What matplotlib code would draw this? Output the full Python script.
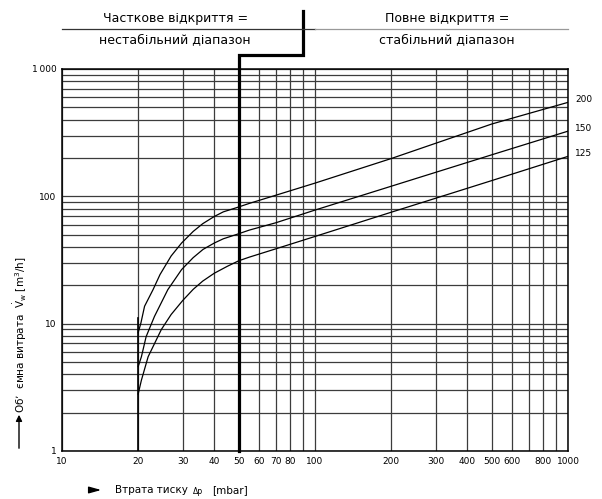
import matplotlib
matplotlib.use("Agg")
import matplotlib.pyplot as plt
import matplotlib.ticker as mticker
import matplotlib.transforms as mtransforms

plt.rcParams['font.family'] = ['DejaVu Sans']

# curve data (pressure drop in mbar -> flow in m3/h)
curve_200_x = [20, 20.5, 21.2, 22.9, 24.4, 27, 29.7, 33, 36, 40, 43.4, 49, 55, 70, 100, 200, 500, 1000]
curve_200_y = [8.5, 10.1, 13.7, 18.5, 24.3, 34, 43, 53, 61, 69.5, 75.5, 81.5, 88, 102, 127, 198, 370, 547]

curve_150_x = [20, 20.6, 21.5, 23.2, 26.2, 29.7, 33, 36.1, 40, 43.4, 49, 55, 70, 100, 200, 500, 1000]
curve_150_y = [4.6, 5.5, 7.9, 11.4, 18.5, 26.6, 33, 38.3, 43, 46.4, 50.2, 54.3, 62, 78, 120, 212, 325]

curve_125_x = [20, 20.6, 21.9, 24.7, 27, 30, 33, 36, 40, 45, 50, 55, 70, 100, 200, 500, 1000]
curve_125_y = [2.8, 3.6, 5.5, 9, 11.8, 15.2, 18.6, 21.6, 24.9, 28.2, 31.2, 33.3, 38.7, 48.4, 75, 133, 206]

x_grid = [10, 20, 30, 40, 50, 60, 70, 80, 90, 100, 200, 300, 400, 500, 600, 700, 800, 900, 1000]
x_labels = ['10', '20', '30', '40', '50', '60', '70', '80', '', '100', '200', '300', '400',
            '500', '600', '', '800', '', '1000']
y_grid = [1, 2, 3, 4, 5, 6, 7, 8, 9, 10, 20, 30, 40, 50, 60, 70, 80, 90,
          100, 200, 300, 400, 500, 600, 700, 800, 900, 1000]
y_labels = ['1', '', '', '', '', '', '', '', '', '10', '', '', '', '', '', '', '', '',
            '100', '', '', '', '', '', '', '', '', '1\u2009000']

min_dp = 20       # lower limit line
stable_dp = 50    # border between partial / full opening
step_dp = 90

fig = plt.figure(figsize=(6.02, 4.99), dpi=100)
ax = fig.add_axes([62 / 602, 48 / 499, 506 / 602, 382 / 499])
ax.set_xscale('log')
ax.set_yscale('log')
ax.set_xlim(10, 1000)
ax.set_ylim(1, 1000)

ax.xaxis.set_major_locator(mticker.FixedLocator(x_grid))
ax.xaxis.set_major_formatter(mticker.FixedFormatter(x_labels))
ax.xaxis.set_minor_locator(mticker.NullLocator())
ax.yaxis.set_major_locator(mticker.FixedLocator(y_grid))
ax.yaxis.set_major_formatter(mticker.FixedFormatter(y_labels))
ax.yaxis.set_minor_locator(mticker.NullLocator())
ax.tick_params(length=0, labelsize=6.5, pad=4)
ax.grid(True, color='#3c3c3c', lw=0.9)
for s in ax.spines.values():
    s.set_linewidth(1.1)

ax.plot([min_dp, min_dp], [1, 11], color='k', lw=1.2)

for xs, ys, name in [(curve_200_x, curve_200_y, '200'),
                     (curve_150_x, curve_150_y, '150'),
                     (curve_125_x, curve_125_y, '125')]:
    ax.plot(xs, ys, color='k', lw=0.9)
    ax.annotate(name, xy=(xs[-1], ys[-1]), xytext=(5, 2), textcoords='offset points',
                ha='left', va='center', fontsize=6.5, annotation_clip=False)

# thick border line with step above the plot
trans = mtransforms.blended_transform_factory(ax.transData, ax.transAxes)
ax.plot([stable_dp, stable_dp, step_dp, step_dp], [0, 1.037, 1.037, 1.152],
        transform=trans, color='k', lw=2.3, clip_on=False, solid_joinstyle='miter')

# header
ax.plot([10, 100], [1.106, 1.106], transform=trans, color='#333333', lw=0.9, clip_on=False)
ax.plot([100, 1000], [1.106, 1.106], transform=trans, color='#999999', lw=0.9, clip_on=False)
ax.text(28, 1.133, 'Часткове відкриття =', transform=trans, ha='center', va='center', fontsize=9)
ax.text(28, 1.077, 'нестабільний діапазон', transform=trans, ha='center', va='center', fontsize=9)
ax.text(333, 1.133, 'Повне відкриття =', transform=trans, ha='center', va='center', fontsize=9)
ax.text(333, 1.077, 'стабільний діапазон', transform=trans, ha='center', va='center', fontsize=9)

# axis titles
fig.text(20 / 602, 1 - 335 / 499,
         'Об’  ємна витрата  $\\dot{\\mathrm{V}}_\\mathrm{w}$ [m$^3$/h]',
         rotation=90, ha='center', va='center', fontsize=7.5)
fig.add_artist(matplotlib.patches.FancyArrowPatch(
    (19 / 602, 1 - 451 / 499), (19 / 602, 1 - 412 / 499), transform=fig.transFigure,
    arrowstyle='-|>', mutation_scale=9, color='k', lw=1))

fig.add_artist(matplotlib.patches.FancyArrowPatch(
    (88 / 602, 1 - 490 / 499), (104 / 602, 1 - 490 / 499), transform=fig.transFigure,
    arrowstyle='-|>,head_length=0.9,head_width=0.25', mutation_scale=8, color='k', lw=1))
fig.text(115 / 602, 1 - 490 / 499, 'Втрата тиску', ha='left', va='center', fontsize=7.5)
fig.text(193 / 602, 1 - 491 / 499, 'Δp', ha='left', va='center', fontsize=5.5)
fig.text(212 / 602, 1 - 490 / 499, '[mbar]', ha='left', va='center', fontsize=7.5)

fig.savefig('out.png', dpi=100)
